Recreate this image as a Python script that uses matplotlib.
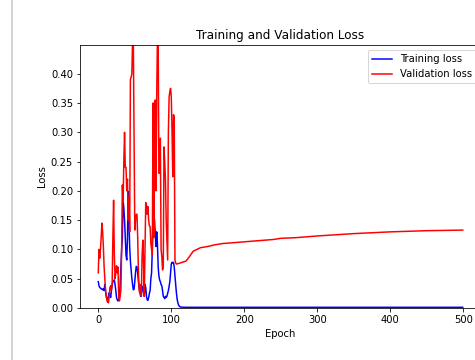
import numpy as np
import matplotlib
matplotlib.use("Agg")
import matplotlib.pyplot as plt
from matplotlib.lines import Line2D

# training loss, one value per epoch for the noisy start
train_early = [0.045, 0.038, 0.035, 0.034, 0.033, 0.032, 0.031, 0.033, 0.030, 0.040,
               0.028, 0.020, 0.015, 0.014, 0.020, 0.026, 0.022, 0.018, 0.030, 0.040,
               0.045, 0.046, 0.048, 0.040, 0.030, 0.018, 0.014, 0.012, 0.015, 0.020,
               0.040, 0.070, 0.100, 0.120, 0.184, 0.170, 0.150, 0.120, 0.090, 0.082,
               0.120, 0.199, 0.150, 0.105, 0.080, 0.065, 0.050, 0.040, 0.031, 0.032,
               0.045, 0.060, 0.071, 0.070, 0.060, 0.045, 0.035, 0.028, 0.020, 0.025,
               0.037, 0.035, 0.025, 0.020, 0.040, 0.035, 0.020, 0.014, 0.013, 0.018,
               0.025, 0.030, 0.050, 0.060, 0.100, 0.140, 0.162, 0.150, 0.128, 0.105,
               0.130, 0.110, 0.071, 0.055, 0.048, 0.045, 0.040, 0.038, 0.030, 0.020,
               0.018, 0.016, 0.020, 0.018, 0.020, 0.025, 0.030, 0.037, 0.045, 0.060,
               0.075, 0.078, 0.077, 0.078, 0.070, 0.055, 0.040, 0.026, 0.015, 0.009,
               0.005, 0.003, 0.002, 0.0015]
train_late_ep = [120, 200, 300, 400, 499]
train_late = [0.0012, 0.0012, 0.0012, 0.0012, 0.0012]

# validation loss
val_early = [0.060, 0.100, 0.085, 0.100, 0.120, 0.145, 0.130, 0.105, 0.070, 0.050,
             0.030, 0.020, 0.012, 0.010, 0.009, 0.020, 0.035, 0.038, 0.030, 0.040,
             0.120, 0.184, 0.090, 0.050, 0.060, 0.072, 0.060, 0.070, 0.020, 0.012,
             0.020, 0.030, 0.100, 0.210, 0.180, 0.250, 0.300, 0.240, 0.240, 0.200,
             0.220, 0.150, 0.190, 0.130, 0.390, 0.394, 0.400, 0.460, 0.460, 0.300,
             0.133, 0.150, 0.160, 0.160, 0.120, 0.060, 0.030, 0.025, 0.040, 0.020,
             0.090, 0.116, 0.080, 0.020, 0.100, 0.180, 0.175, 0.160, 0.173, 0.150,
             0.140, 0.139, 0.110, 0.100, 0.090, 0.350, 0.120, 0.350, 0.355, 0.200,
             0.360, 0.460, 0.460, 0.230, 0.230, 0.290, 0.100, 0.088, 0.065, 0.070,
             0.275, 0.250, 0.218, 0.150, 0.116, 0.082, 0.300, 0.360, 0.370, 0.375,
             0.360, 0.300, 0.224, 0.330, 0.326, 0.082, 0.077, 0.075]
val_late_ep = [110, 115, 120, 125, 130, 135, 140, 150, 160, 170, 180, 200, 220, 240,
               250, 270, 300, 350, 400, 450, 499]
val_late = [0.076, 0.078, 0.080, 0.088, 0.097, 0.100, 0.103, 0.105, 0.108, 0.110,
            0.111, 0.113, 0.115, 0.117, 0.119, 0.120, 0.123, 0.127, 0.130, 0.132, 0.133]

train_x = list(range(len(train_early))) + train_late_ep
train_y = train_early + train_late
val_x = list(range(len(val_early))) + val_late_ep
val_y = val_early + val_late

fig = plt.figure(figsize=(475 / 72, 360 / 72), dpi=72)
ax = fig.add_axes([80 / 475, 52 / 360, 401 / 475, 263 / 360])

ax.plot(train_x, train_y, 'b', label='Training loss')
ax.plot(val_x, val_y, 'r', label='Validation loss')
ax.set_title('Training and Validation Loss')
ax.set_xlabel('Epoch')
ax.set_ylabel('Loss')
ax.set_xlim(-25, 524)
ax.set_ylim(0, 0.449)
ax.legend(loc='upper right')

# notebook cell border
fig.add_artist(Line2D([12 / 475, 12 / 475], [0, 1], transform=fig.transFigure,
                      color='#d4d4d4', lw=2))

plt.savefig('out.png', dpi=72)
